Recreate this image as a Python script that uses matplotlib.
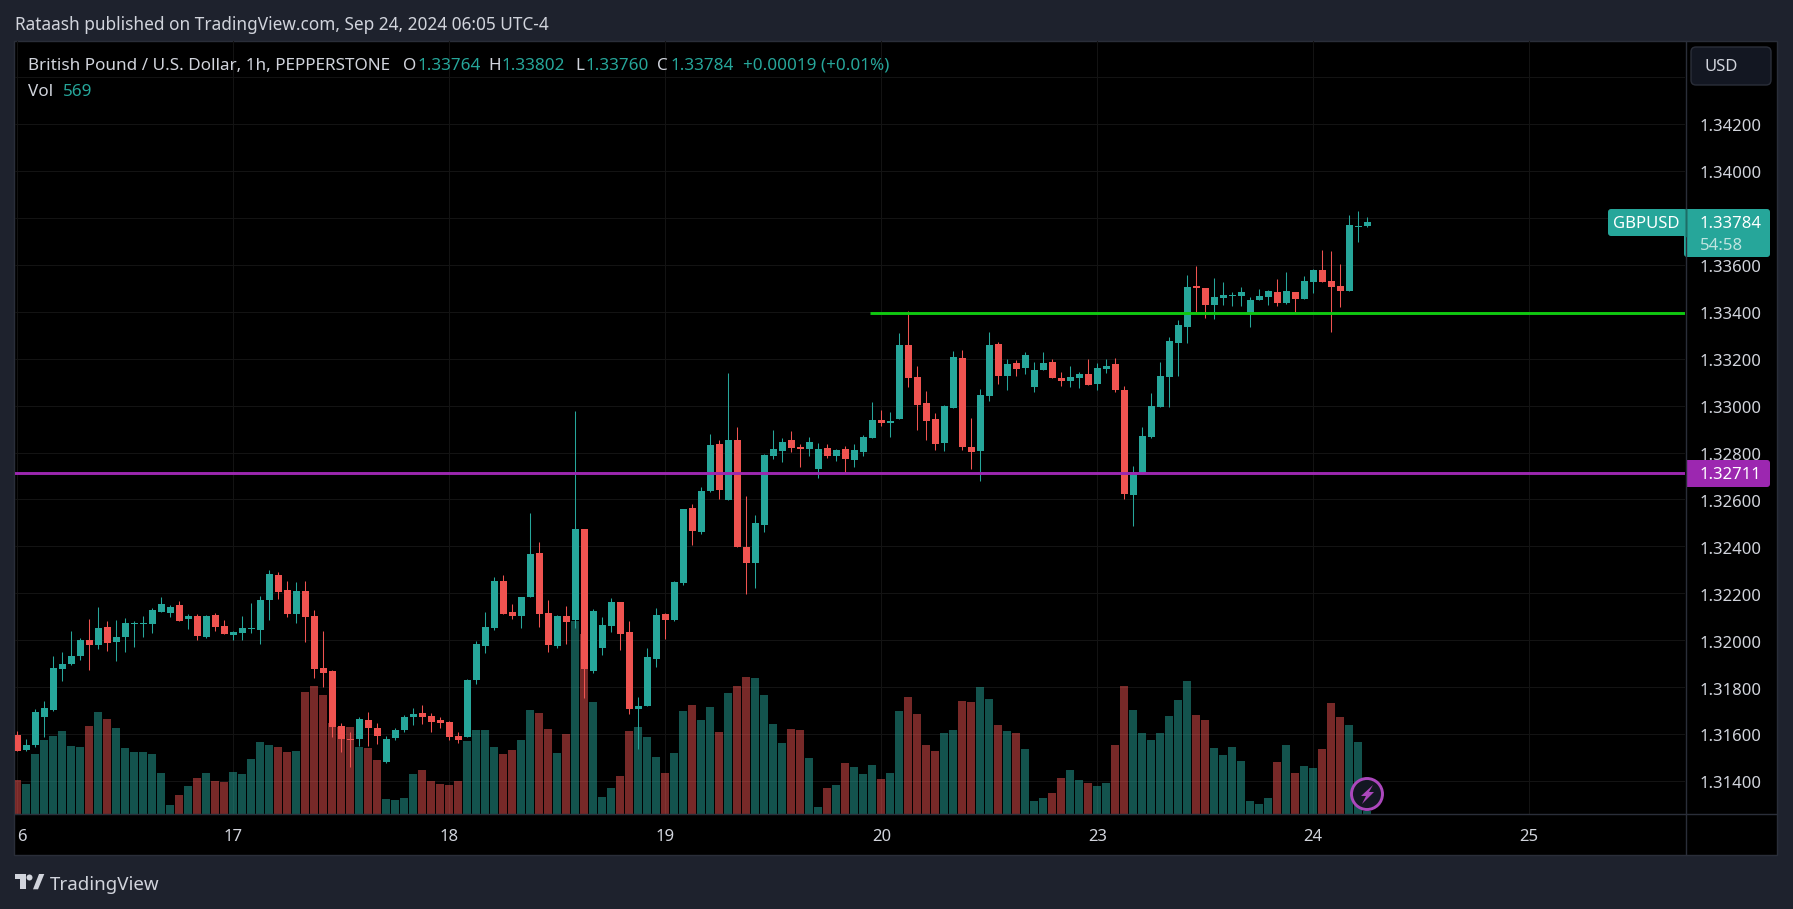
import matplotlib
matplotlib.use("Agg")
import matplotlib.pyplot as plt
from matplotlib.patches import Rectangle, FancyBboxPatch, Circle, Polygon
from matplotlib.transforms import ScaledTranslation
import numpy as np

plt.rcParams["font.family"] = ["Noto Sans", "DejaVu Sans"]

opens = [1.31597, 1.31533, 1.31554, 1.31674, 1.31703, 1.31878, 1.31899, 1.31933, 1.32002, 1.31980, 1.32057, 1.31993,
         1.32014, 1.32070, 1.32070, 1.32070, 1.32121, 1.32117, 1.32151, 1.32091, 1.32104, 1.32014, 1.32108, 1.32061,
         1.32023, 1.32031, 1.32048, 1.32044, 1.32172, 1.32278, 1.32215, 1.32112, 1.32210, 1.32104, 1.31882, 1.31870,
         1.31635, 1.31580, 1.31580, 1.31661, 1.31627, 1.31482, 1.31584, 1.31618, 1.31674, 1.31691, 1.31678, 1.31661,
         1.31652, 1.31593, 1.31588, 1.31831, 1.31976, 1.32053, 1.32253, 1.32121, 1.32104, 1.32185, 1.32372, 1.32117,
         1.31976, 1.32104, 1.32087, 1.32474, 1.31869, 1.31967, 1.32061, 1.32163, 1.32035, 1.31707, 1.31720, 1.31920,
         1.32112, 1.32086, 1.32244, 1.32564, 1.32461, 1.32636, 1.32836, 1.32598, 1.32853, 1.32397, 1.32329, 1.32491,
         1.32785, 1.32806, 1.32853, 1.32823, 1.32815, 1.32730, 1.32819, 1.32785, 1.32815, 1.32768, 1.32802, 1.32862,
         1.32938, 1.32925, 1.32942, 1.33258, 1.33121, 1.33011, 1.32942, 1.32840, 1.32989, 1.33202, 1.32823, 1.32806,
         1.33040, 1.33262, 1.33126, 1.33181, 1.33160, 1.33079, 1.33151, 1.33185, 1.33117, 1.33104, 1.33117, 1.33134,
         1.33092, 1.33155, 1.33177, 1.33066, 1.32619, 1.32713, 1.32866, 1.32994, 1.33122, 1.33267, 1.33335, 1.33510,
         1.33501, 1.33429, 1.33459, 1.33467, 1.33467, 1.33390, 1.33450, 1.33463, 1.33484, 1.33437, 1.33484, 1.33454,
         1.33527, 1.33578, 1.33531, 1.33510, 1.33488, 1.33761, 1.33764]
highs = [1.31614, 1.31580, 1.31708, 1.31742, 1.31933, 1.31950, 1.32040, 1.32010, 1.32091, 1.32142, 1.32083, 1.32087,
         1.32095, 1.32083, 1.32104, 1.32138, 1.32185, 1.32151, 1.32168, 1.32112, 1.32112, 1.32108, 1.32117, 1.32087,
         1.32040, 1.32104, 1.32159, 1.32189, 1.32300, 1.32291, 1.32253, 1.32249, 1.32253, 1.32129, 1.32040, 1.31874,
         1.31648, 1.31610, 1.31674, 1.31695, 1.31648, 1.31593, 1.31627, 1.31682, 1.31712, 1.31725, 1.31691, 1.31674,
         1.31657, 1.31610, 1.31835, 1.31997, 1.32121, 1.32270, 1.32278, 1.32155, 1.32185, 1.32543, 1.32419, 1.32172,
         1.32108, 1.32146, 1.32977, 1.32474, 1.32134, 1.32099, 1.32180, 1.32163, 1.32082, 1.31758, 1.31967, 1.32138,
         1.32116, 1.32253, 1.32559, 1.32581, 1.32653, 1.32879, 1.32853, 1.33139, 1.32909, 1.32615, 1.32534, 1.32794,
         1.32896, 1.32862, 1.32892, 1.32836, 1.32866, 1.32840, 1.32836, 1.32815, 1.32828, 1.32836, 1.32874, 1.33015,
         1.32981, 1.32972, 1.33309, 1.33403, 1.33168, 1.33062, 1.32968, 1.33002, 1.33232, 1.33236, 1.32947, 1.33070,
         1.33313, 1.33270, 1.33198, 1.33194, 1.33228, 1.33185, 1.33228, 1.33198, 1.33143, 1.33168, 1.33143, 1.33198,
         1.33181, 1.33198, 1.33202, 1.33083, 1.32742, 1.32909, 1.33054, 1.33186, 1.33292, 1.33365, 1.33556, 1.33595,
         1.33501, 1.33544, 1.33527, 1.33484, 1.33505, 1.33463, 1.33497, 1.33493, 1.33539, 1.33569, 1.33484, 1.33552,
         1.33582, 1.33663, 1.33659, 1.33603, 1.33812, 1.33829, 1.33802]
lows = [1.31529, 1.31529, 1.31546, 1.31588, 1.31699, 1.31827, 1.31895, 1.31916, 1.31874, 1.31963, 1.31955, 1.31912,
        1.31950, 1.31972, 1.32014, 1.32031, 1.32121, 1.32100, 1.32083, 1.32048, 1.32002, 1.32010, 1.32040, 1.32027,
        1.32002, 1.32002, 1.32031, 1.31985, 1.32087, 1.32176, 1.32100, 1.32074, 1.31993, 1.31840, 1.31801, 1.31588,
        1.31524, 1.31461, 1.31550, 1.31550, 1.31559, 1.31478, 1.31576, 1.31610, 1.31639, 1.31644, 1.31610, 1.31627,
        1.31576, 1.31563, 1.31588, 1.31814, 1.31946, 1.32044, 1.32112, 1.32091, 1.32053, 1.32185, 1.32057, 1.31950,
        1.31968, 1.31985, 1.32053, 1.31754, 1.31861, 1.31937, 1.32035, 1.31959, 1.31686, 1.31537, 1.31720, 1.31886,
        1.32005, 1.32082, 1.32235, 1.32406, 1.32453, 1.32632, 1.32602, 1.32598, 1.32397, 1.32197, 1.32223, 1.32461,
        1.32772, 1.32759, 1.32802, 1.32738, 1.32785, 1.32691, 1.32777, 1.32764, 1.32717, 1.32738, 1.32785, 1.32862,
        1.32913, 1.32866, 1.32942, 1.33079, 1.32896, 1.32853, 1.32810, 1.32806, 1.32989, 1.32810, 1.32729, 1.32678,
        1.33019, 1.33092, 1.33066, 1.33126, 1.33134, 1.33057, 1.33151, 1.33117, 1.33083, 1.33079, 1.33075, 1.33087,
        1.33066, 1.33138, 1.33057, 1.32602, 1.32487, 1.32713, 1.32862, 1.32994, 1.32994, 1.33126, 1.33267, 1.33395,
        1.33373, 1.33369, 1.33429, 1.33424, 1.33424, 1.33335, 1.33450, 1.33429, 1.33424, 1.33433, 1.33399, 1.33454,
        1.33480, 1.33527, 1.33314, 1.33420, 1.33488, 1.33697, 1.33760]
closes = [1.31529, 1.31554, 1.31695, 1.31712, 1.31882, 1.31899, 1.31933, 1.32002, 1.31980, 1.32053, 1.31989, 1.32014,
          1.32074, 1.32074, 1.32074, 1.32129, 1.32155, 1.32142, 1.32083, 1.32104, 1.32019, 1.32104, 1.32057, 1.32027,
          1.32036, 1.32053, 1.32053, 1.32172, 1.32283, 1.32206, 1.32112, 1.32210, 1.32100, 1.31878, 1.31861, 1.31631,
          1.31580, 1.31576, 1.31665, 1.31627, 1.31593, 1.31580, 1.31618, 1.31674, 1.31686, 1.31674, 1.31652, 1.31648,
          1.31588, 1.31576, 1.31831, 1.31985, 1.32057, 1.32253, 1.32112, 1.32104, 1.32185, 1.32368, 1.32112, 1.31980,
          1.32104, 1.32078, 1.32474, 1.31878, 1.32125, 1.32065, 1.32163, 1.32027, 1.31707, 1.31720, 1.31929, 1.32108,
          1.32086, 1.32248, 1.32559, 1.32466, 1.32636, 1.32832, 1.32640, 1.32853, 1.32397, 1.32329, 1.32500, 1.32789,
          1.32815, 1.32845, 1.32819, 1.32815, 1.32845, 1.32815, 1.32785, 1.32811, 1.32772, 1.32811, 1.32866, 1.32938,
          1.32925, 1.32934, 1.33258, 1.33117, 1.33002, 1.32934, 1.32836, 1.32998, 1.33207, 1.32823, 1.32802, 1.33045,
          1.33258, 1.33126, 1.33177, 1.33155, 1.33215, 1.33151, 1.33181, 1.33117, 1.33104, 1.33121, 1.33134, 1.33087,
          1.33160, 1.33168, 1.33066, 1.32623, 1.32717, 1.32871, 1.32998, 1.33126, 1.33275, 1.33343, 1.33505, 1.33501,
          1.33429, 1.33463, 1.33471, 1.33471, 1.33484, 1.33450, 1.33467, 1.33488, 1.33437, 1.33488, 1.33454, 1.33531,
          1.33578, 1.33527, 1.33505, 1.33488, 1.33769, 1.33765, 1.33784]
volumes = [7140, 6300, 12600, 15540, 16380, 17430, 14280, 14070, 18480, 21420, 19950, 18060, 13860, 13020, 13020, 12600,
           8610, 1890, 3990, 5880, 7560, 8610, 6930, 6720, 8820, 8400, 11550, 15120, 14490, 14070, 13020, 13230,
           25620, 26880, 24990, 19110, 18270, 18270, 14070, 13860, 11340, 3150, 2940, 3360, 8400, 9240, 6930, 6300,
           6090, 6930, 15330, 17640, 17640, 14070, 12600, 13440, 15540, 21840, 21210, 17850, 12810, 16800, 40600,
           37800, 23520,
           3570, 5460, 7980, 17430, 18270, 16170, 11970, 8610, 12810, 21630, 22890, 19740, 22470, 17220, 25410, 26880,
           28770, 28560, 24990, 18900, 14910, 17850, 17640, 11760, 1470, 5460, 6090, 10710, 9870, 8400, 10290, 7350,
           8610, 21630, 24570, 21000, 14490, 13230, 17010, 17640, 23730,
           23520, 26670, 24150, 18690, 17430, 17010, 13650, 2730, 3360, 4410, 7560, 9240, 7140, 6510, 5880, 6510,
           14490, 26880, 21840, 17010, 15540, 17010, 20580, 23940, 27930, 20790, 19740, 13860, 12390, 14070, 11130,
           2730, 2100, 3360, 10920, 14490, 8610, 10080, 9660, 13650, 23310, 20370, 18690, 15120, 569]

# hour 0 of the 17th is bar 0
first_bar = -24
day_pos = [-24, 0, 24, 48, 72, 96, 120, 144]
day_labels = ["6", "17", "18", "19", "20", "23", "24", "25"]
price_ticks = [1.314, 1.316, 1.318, 1.320, 1.322, 1.324, 1.326, 1.328, 1.330, 1.332, 1.334, 1.336, 1.338, 1.340, 1.342, 1.344]
support = 1.32711
resistance = 1.33393
resistance_start = 70.7

W, H = 1793, 909
UP = "#26a69a"
DOWN = "#ef5350"
PANEL = "#1e222d"
BORDER = "#2a2e39"
TXT = "#d1d4dc"

fig = plt.figure(figsize=(W / 100, H / 100), dpi=100, facecolor=PANEL)


def pixel_axes(z):
    a = fig.add_axes([0, 0, 1, 1], zorder=z, facecolor="none")
    a.set_xlim(0, W)
    a.set_ylim(H, 0)
    a.axis("off")
    return a


back = pixel_axes(0)
back.add_patch(Rectangle((14, 41), 1763, 814, fc="black", ec=BORDER, lw=1))

pos = [15 / W, (H - 814) / H, 1670 / W, 773 / H]
ax = fig.add_axes(pos, zorder=1, facecolor="none")
ax_vol = fig.add_axes(pos, zorder=2, facecolor="none", sharex=ax)
ax_c = fig.add_axes(pos, zorder=3, facecolor="none", sharex=ax, sharey=ax)

bars = np.arange(first_bar, first_bar + len(closes))
o = np.array(opens)
c = np.array(closes)
is_up = c >= o
colors = [UP if u else DOWN for u in is_up]

ax.set_xlim(-24.26, 161.3)
ax.set_ylim(1.312603, 1.345531)

ax.set_xticks(day_pos, day_labels)
ax.set_yticks(price_ticks, [("" if p in (1.338, 1.344) else f"{p:.5f}") for p in price_ticks])
ax.yaxis.tick_right()
ax.tick_params(axis="x", length=0, pad=11, labelcolor=TXT, labelsize=12)
ax.tick_params(axis="y", length=0, pad=10.5, labelcolor=TXT, labelsize=12)
ax.grid(True, color="#131313", lw=0.75)
for s in ax.spines.values():
    s.set_visible(False)
first_label = ax.get_xticklabels()[0]
first_label.set_transform(first_label.get_transform() + ScaledTranslation(5 / 100, 0, fig.dpi_scale_trans))
for lab in ax.get_yticklabels():
    lab.set_transform(lab.get_transform() + ScaledTranslation(0, -1.2 / 100, fig.dpi_scale_trans))

ax_vol.bar(bars, volumes, width=8 / 9, color=colors, alpha=0.5, linewidth=0)
ax_vol.set_ylim(0, 162330)
ax_vol.axis("off")

ax_c.vlines(bars, lows, highs, colors=colors, lw=0.75)
ax_c.bar(bars, np.maximum(np.abs(c - o), 0.00005), bottom=np.minimum(o, c), width=7 / 9, color=colors, linewidth=0)
ax_c.axhline(support, color="#9c27b0", lw=2.1, zorder=5)
ax_c.plot([resistance_start, 161.3], [resistance, resistance], color="#10c810", lw=2.1, zorder=5, solid_capstyle="butt")
ax_c.axis("off")

front = pixel_axes(5)
front.plot([15, 1777], [814, 814], color=BORDER, lw=1)
front.plot([1685.5, 1685.5], [41, 855], color=BORDER, lw=1)

# header text
front.text(15, 25, "Rataash published on TradingView.com, Sep 24, 2024 06:05 UTC-4", color=TXT, fontsize=12.4, va="center")
front.text(27.5, 66, "British Pound / U.S. Dollar, 1h, PEPPERSTONE", color=TXT, fontsize=12.3, va="center")
for x, s, col in [(403, "O", TXT), (417, "1.33764", UP), (488, "H", TXT), (501, "1.33802", UP),
                  (575, "L", TXT), (585, "1.33760", UP), (657, "C", TXT), (670, "1.33784", UP),
                  (743, "+0.00019 (+0.01%)", UP), (27.5, "Vol", TXT), (63, "569", UP)]:
    front.text(x, 91.5 if s in ("Vol", "569") else 66, s, color=col, fontsize=12.3, va="center")

# USD button
front.add_patch(FancyBboxPatch((1695, 51), 72, 30, boxstyle="round,pad=4,rounding_size=5", fc="#131722", ec=BORDER, lw=1))
front.text(1705, 67, "USD", color=TXT, fontsize=12, va="center")

# price labels
front.add_patch(FancyBboxPatch((1610, 211), 75, 23, boxstyle="round,pad=2,rounding_size=3", fc=UP, ec="none"))
front.add_patch(FancyBboxPatch((1686, 211), 82, 44, boxstyle="round,pad=2,rounding_size=3", fc=UP, ec="none"))
front.add_patch(Rectangle((1686, 209), 4, 47.5, fc=UP, ec="none"))
front.plot([1685.5, 1685.5], [209, 236], color="#1b6e66", lw=1)
front.text(1646.5, 224, "GBPUSD", color="white", fontsize=12, va="center", ha="center", fontweight="semibold")
front.text(1700, 224, f"{closes[-1]:.5f}", color="white", fontsize=12, va="center", fontweight="semibold")
front.text(1700, 245.5, "54:58", color="#bfe4e0", fontsize=12, va="center")
front.add_patch(FancyBboxPatch((1688, 462), 80, 23, boxstyle="round,pad=2,rounding_size=3", fc="#9c27b0", ec="none"))
front.add_patch(Rectangle((1686, 460), 5, 27, fc="#9c27b0", ec="none"))
front.text(1700, 475, f"{support:.5f}", color="white", fontsize=12, va="center", fontweight="semibold")

# lightning badge
front.add_patch(Circle((1367, 794), 15.5, fc="#131722", ec="#ab47bc", lw=2.1))
front.add_patch(Polygon([(1373, 785), (1361, 796), (1366, 796), (1362, 804), (1374, 792), (1369, 792)], fc="#ab47bc", ec="none"))

# logo
front.add_patch(Polygon([(15, 874), (25.7, 874), (25.7, 889.3), (20, 889.3), (20, 879.3), (15, 879.3)], fc=TXT, ec="none"))
front.add_patch(Circle((29.5, 877.5), 3, fc=TXT, ec="none"))
front.add_patch(Polygon([(33, 889.3), (39, 874), (44.3, 874), (38, 889.3)], fc=TXT, ec="none"))
front.text(50, 885, "TradingView", color=TXT, fontsize=13.5, va="center", fontweight="medium")

fig.savefig("out.png", dpi=100, facecolor=PANEL)
